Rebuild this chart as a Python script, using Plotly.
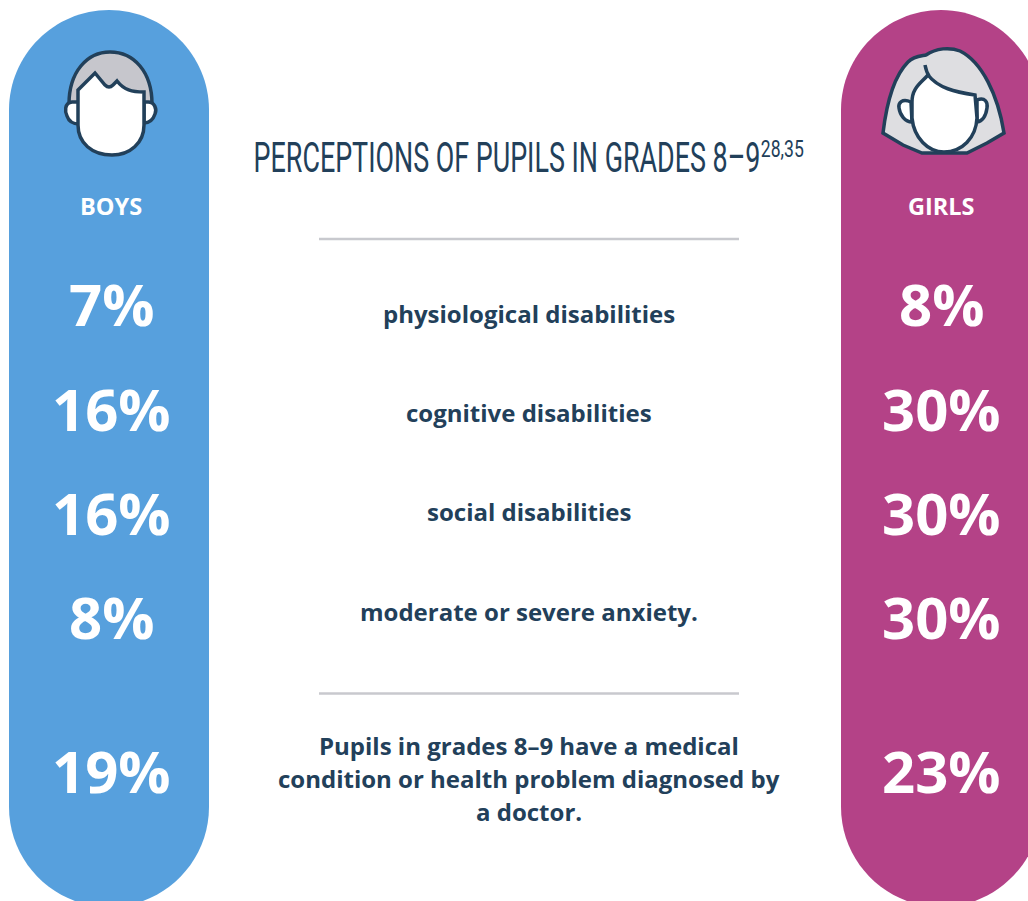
#!/usr/bin/env python3
"""Infographic: perceptions of pupils in grades 8-9, boys vs girls."""
import plotly.graph_objects as go

NAVY = "#22405a"
BLUE = "#57a0dd"
PINK = "#b44287"
RULE = "#c8c9ce"
BODY_FONT = "Open Sans, Noto Sans, sans-serif"
TITLE_FONT = "Roboto, sans-serif"

group_labels = ["BOYS", "GIRLS"]
boys_pct = ["7%", "16%", "16%", "8%", "19%"]
girls_pct = ["8%", "30%", "30%", "30%", "23%"]
row_labels = [
    "physiological disabilities",
    "cognitive disabilities",
    "social disabilities",
    "moderate or severe anxiety.",
]
note_lines = [
    "Pupils in grades 8–9 have a medical",
    "condition or health problem diagnosed by",
    "a doctor.",
]
title_text = "PERCEPTIONS OF PUPILS IN GRADES 8–9"
title_refs = "28,35"

# layout, in page pixels
W, H = 1028, 901
BOY_X, GIRL_X, MID_X = 109, 941, 529
PCT_Y = [303, 408, 512, 616, 770]
LABEL_Y = [313, 412, 511, 611]
NOTE_Y = [745, 778, 811]
TITLE_W, REFS_W = 507, 43

HEAD_OUTLINE = dict(color=NAVY, width=3.5)


def pill_path(cx, top=10, bottom=907, r=100):
    return (f"M {cx - r} {top + r} C {cx - r} {top + 45} {cx - 55} {top} {cx} {top} "
            f"C {cx + 55} {top} {cx + r} {top + 45} {cx + r} {top + r} "
            f"L {cx + r} {bottom - r} C {cx + r} {bottom - 45} {cx + 55} {bottom} {cx} {bottom} "
            f"C {cx - 55} {bottom} {cx - r} {bottom - 45} {cx - r} {bottom - r} Z")


fig = go.Figure()

shapes = [
    dict(type="path", path=pill_path(BOY_X), fillcolor=BLUE, line_width=0),
    dict(type="path", path=pill_path(GIRL_X), fillcolor=PINK, line_width=0),
    dict(type="line", x0=319, x1=739, y0=239, y1=239, line=dict(color=RULE, width=2.5)),
    dict(type="line", x0=319, x1=739, y0=693.5, y1=693.5, line=dict(color=RULE, width=2.5)),
    # boy: hair, ears, face
    dict(type="path", fillcolor="#c6c6cc", line=HEAD_OUTLINE,
         path="M 69 104 C 69 72 87 52 110 52 C 134 52 152 72 152 104 L 144 108 L 78 108 Z"),
    dict(type="path", fillcolor="white", line=HEAD_OUTLINE,
         path="M 72 102 C 64 103 65 112 67 116 C 69 122 74 124 79 124 L 79 102 Z"),
    dict(type="path", fillcolor="white", line=HEAD_OUTLINE,
         path="M 147 102 C 155 101 157 110 155 114 C 153 120 149 123 144 123 L 144 102 Z"),
    dict(type="path", fillcolor="white", line=HEAD_OUTLINE,
         path="M 78 90 L 95 73 L 105 85 C 108 88 111 87 113 85 L 117 81 C 124 90 132 92 144 92 L 144 125 "
              "C 144 143 130 155 112 155 C 92 155 78 143 78 125 Z"),
    # girl: hair, ears, face, fringe
    dict(type="path", fillcolor="#dedee1", line=HEAD_OUTLINE,
         path="M 883 133 C 886 108 892 78 908 62 C 914 56 922 56 926 55 C 936 48 950 47 960 51 "
              "C 982 62 998 95 1004 133 L 987 143 L 967 153 L 922 153 L 903 145 Z"),
    dict(type="path", fillcolor="white", line=HEAD_OUTLINE,
         path="M 911 102 C 902 98 898 103 899 108 C 900 115 905 122 912 122 Z"),
    dict(type="path", fillcolor="white", line=HEAD_OUTLINE,
         path="M 977 100 C 985 97 988 102 987 108 C 986 115 983 121 977 122 Z"),
    dict(type="path", fillcolor="white", line=HEAD_OUTLINE,
         path="M 928 75 C 920 84 912 88 912 102 L 912 118 C 914 138 928 152 944 152 "
              "C 962 152 976 138 977 118 L 975 95 C 955 92 938 88 928 75 Z"),
    dict(type="path", line=HEAD_OUTLINE, path="M 925 65 C 926 70 927 73 929 76"),
]


def add_text(x, y, text, size, color):
    fig.add_annotation(x=x, y=y, text=f"<b>{text}</b>", showarrow=False, xanchor="center",
                       yanchor="middle", font=dict(family=BODY_FONT, size=size, color=color))


add_text(BOY_X + 1.5, 206, group_labels[0], 23.5, "white")
add_text(GIRL_X, 206, group_labels[1], 23.5, "white")
for i, y in enumerate(PCT_Y):
    add_text(BOY_X + 2, y, boys_pct[i], 58, "white")
    add_text(GIRL_X, y, girls_pct[i], 58, "white")
for y, label in zip(LABEL_Y, row_labels):
    add_text(MID_X, y, label, 24, NAVY)
for y, line in zip(NOTE_Y, note_lines):
    add_text(MID_X, y, line, 24, NAVY)

# no condensed face is installed, so Roboto is squeezed to the reference width below
fig.add_annotation(x=506.5, y=157, text=title_text, showarrow=False, xanchor="center", yanchor="middle",
                   font=dict(family=TITLE_FONT, size=42, color=NAVY))
fig.add_annotation(x=782.5, y=149, text=title_refs, showarrow=False, xanchor="center", yanchor="middle",
                   font=dict(family=TITLE_FONT, size=24, color=NAVY))

fig.update_layout(
    width=W, height=H, margin=dict(l=0, r=0, t=0, b=0),
    paper_bgcolor="white", plot_bgcolor="white", showlegend=False, shapes=shapes,
    xaxis=dict(range=[0, W], visible=False, fixedrange=True),
    yaxis=dict(range=[H, 0], visible=False, fixedrange=True),
)

squeeze_js = """
document.body.style.margin = '0';
var widths = {'%s': %d, '%s': %d};
document.querySelectorAll('.annotation-text').forEach(function (t) {
    var w = widths[t.textContent];
    if (w) {
        var sx = w / t.getComputedTextLength();
        var cx = parseFloat(t.getAttribute('x'));
        t.setAttribute('transform', 'translate(' + cx + ',0) scale(' + sx + ',1) translate(' + (-cx) + ',0)');
    }
});
""" % (title_text, TITLE_W, title_refs, REFS_W)

fig.write_html("out.html", include_plotlyjs=True, config=dict(displayModeBar=False),
               post_script=squeeze_js)
